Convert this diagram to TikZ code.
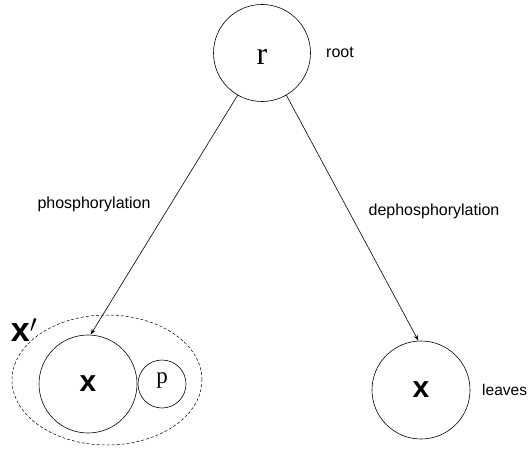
\documentclass[tikz,border=0pt]{standalone}
\usepackage{fontspec}
\setmainfont{Liberation Sans}
\newfontfamily\tnr{Liberation Serif}
\usetikzlibrary{arrows.meta,shapes.geometric}
\begin{document}
\begin{tikzpicture}[x=1pt,y=-1pt,
  ring/.style={draw,circle,line width=0.6pt,inner sep=0pt},
  lbl/.style={font=\fontsize{16}{18}\selectfont,inner sep=0pt},
  big/.style={font=\fontsize{30}{32}\selectfont\bfseries},
  arr/.style={-{Stealth[length=6pt,width=4pt]},line width=0.6pt}]
\useasboundingbox (0,0) rectangle (529,449);
\node[ring,minimum size=97pt] (r) at (262,53) {};
\node at (262,57) {\tnr\fontsize{32}{34}\selectfont r};
\node[lbl,anchor=west] (rootl) at (326,52) {root};
\node[draw,dashed,dash pattern=on 3pt off 2pt,ellipse,line width=0.5pt,minimum width=190pt,minimum height=130pt] (xp) at (107,380) {};
\node[ring,minimum size=98pt] (x1) at (88,384) {};
\node[big] at (88,384) {x};
\node[ring,minimum size=48pt] (p) at (162,384) {};
\node at (162,381) {\tnr\fontsize{23}{25}\selectfont p};
\node[big,font=\fontsize{34}{36}\selectfont\bfseries] (xl) at (24,330) {x$'$};
\node[ring,minimum size=98pt] (x2) at (421,390) {};
\node[big] at (421,390) {x};
\node[lbl,anchor=west,font=\fontsize{15.5}{18}\selectfont] (leaves) at (482,390) {leaves};
\node[lbl] (ph) at (94,204) {phosphorylation};
\node[lbl] (dph) at (434,211) {dephosphorylation};
\draw[arr] (r.240) -- (x1.87);
\draw[arr] (r.300) -- (x2.93);
\end{tikzpicture}
\end{document}
